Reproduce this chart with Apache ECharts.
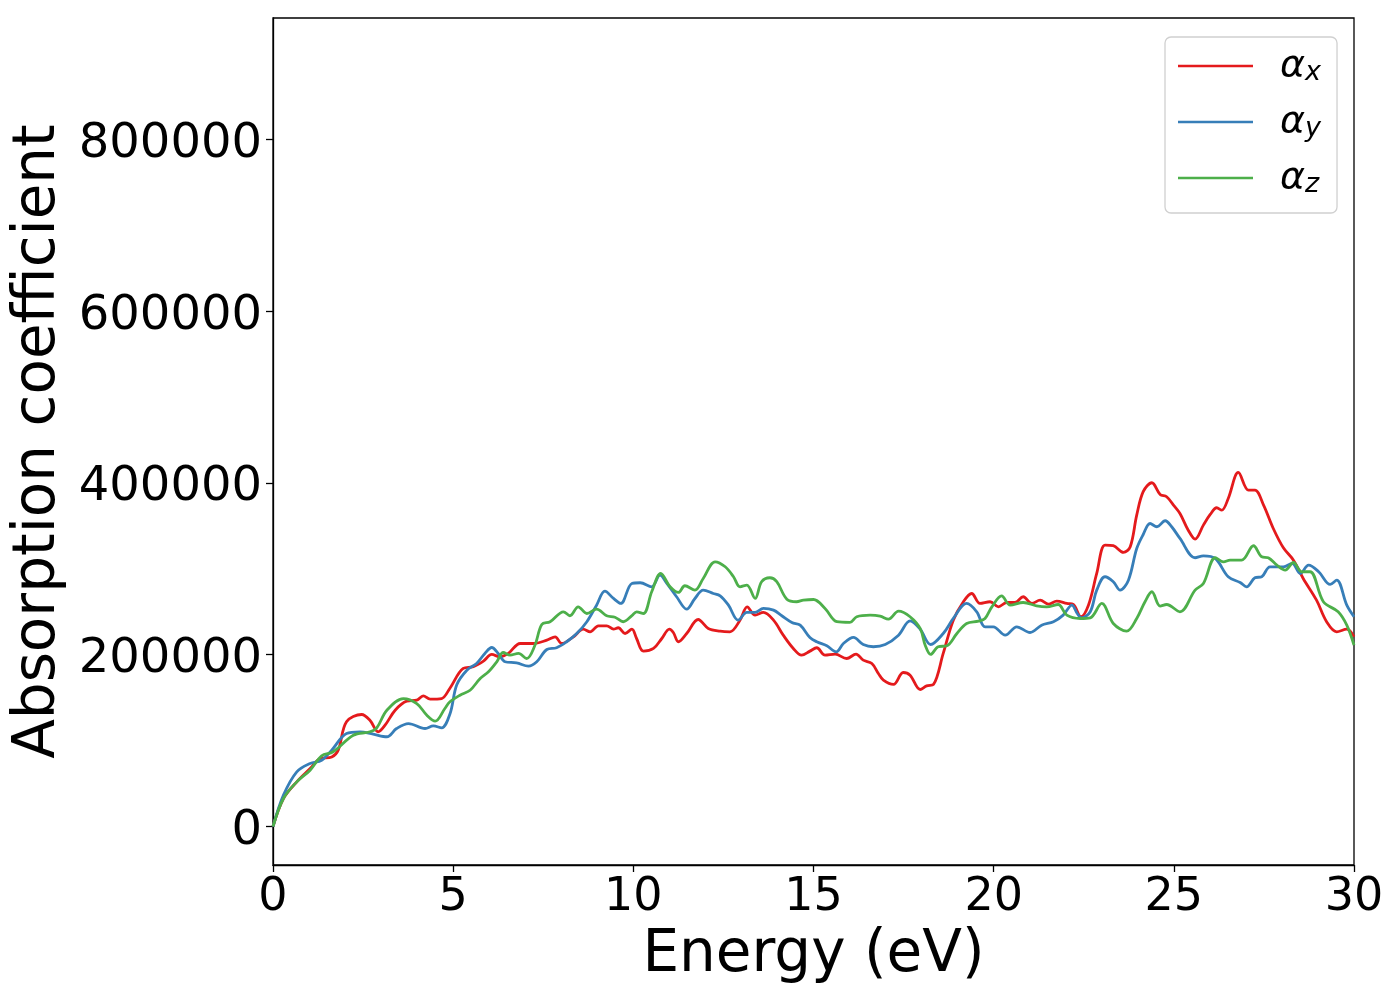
<!DOCTYPE html>
<html>
<head>
<meta charset="utf-8">
<script src="https://cdn.jsdelivr.net/npm/echarts@6/dist/echarts.min.js"></script>
<style>
html,body{margin:0;padding:0;background:#fff;}
#chart{width:1400px;height:1000px;}
</style>
</head>
<body>
<div id="chart"></div>
<script>
// ---- data ----
const seriesNames = ['α_x', 'α_y', 'α_z'];
const xTicks = [0, 5, 10, 15, 20, 25, 30];
const yTicks = [0, 200000, 400000, 600000, 800000];

const redX = [0,0.29,0.66,1.03,1.30,1.63,1.81,2.04,2.46,2.69,2.92,3.11,3.39,3.71,3.99,4.17,4.36,4.68,4.91,5.28,5.56,5.84,6.07,6.30,6.53,6.86,7.22,7.60,7.83,8.01,8.34,8.61,8.80,9.03,9.26,9.45,9.58,9.77,9.96,10.09,10.28,10.56,10.79,11.00,11.11,11.25,11.48,11.80,12.08,12.41,12.68,12.96,13.16,13.38,13.61,13.89,14.16,14.44,14.67,14.90,15.09,15.32,15.60,15.92,16.18,16.38,16.62,16.80,16.94,17.22,17.49,17.68,17.96,18.14,18.33,18.60,18.88,19.16,19.39,19.62,19.90,20.13,20.36,20.59,20.82,21.06,21.29,21.52,21.75,22.03,22.21,22.42,22.63,22.86,23.09,23.32,23.60,23.79,23.97,24.15,24.39,24.62,24.80,24.99,25.17,25.40,25.59,25.82,26.01,26.19,26.33,26.51,26.79,27.07,27.25,27.49,27.76,28.04,28.32,28.59,28.96,29.24,29.52,29.80,30.00];
const redY = [0,32600,52000,67500,79000,81000,88900,122000,130400,123800,110300,118000,135400,145900,147100,152200,148200,149000,161000,184000,186000,192500,200300,197600,201500,213100,213100,217000,220900,213100,220900,229800,226700,233700,233700,229800,231400,224700,229800,218900,204200,207300,218900,229800,225900,215100,224700,241000,230600,227400,226700,240200,255800,246100,249200,240200,222800,207300,199500,204200,208100,199500,200700,195600,200700,193700,189800,178200,170400,165400,179300,176200,159500,163800,165400,201500,240200,261700,271300,259700,261700,255800,260800,260800,267500,259700,263500,258900,262400,259700,258500,244200,257700,294600,327600,326900,319100,325700,362500,389800,400200,386600,383900,374200,364500,345000,334600,350900,363300,371100,368300,381900,412200,391600,391600,374200,347000,324500,310100,288800,263500,238400,226700,229800,220900];

const blueX = [0,0.29,0.66,1.03,1.35,1.63,2.04,2.41,2.78,3.16,3.43,3.76,4.22,4.45,4.68,4.91,5.10,5.38,5.65,5.88,6.07,6.25,6.44,6.76,7.09,7.32,7.60,7.87,8.15,8.43,8.71,8.98,9.21,9.45,9.65,9.96,10.19,10.51,10.74,10.93,11.20,11.48,11.71,11.94,12.22,12.41,12.64,12.91,13.15,13.38,13.61,13.89,14.12,14.40,14.63,14.90,15.09,15.37,15.63,15.83,16.11,16.38,16.66,16.99,17.36,17.68,17.96,18.25,18.60,18.88,19.25,19.53,19.76,19.99,20.32,20.64,21.01,21.33,21.66,21.93,22.17,22.32,22.44,22.68,22.86,23.09,23.32,23.51,23.74,23.97,24.15,24.34,24.53,24.76,24.94,25.17,25.59,25.82,26.15,26.51,26.84,27.02,27.25,27.44,27.67,28.04,28.28,28.51,28.74,29.02,29.34,29.52,29.80,30.00];
const blueY = [0,36500,63700,73400,77200,88900,108300,110300,107500,104500,114100,119900,114100,117200,114900,131000,165000,182000,189800,201500,208400,201500,191800,190600,186700,191800,206100,208100,215100,224700,238400,257700,274000,265500,259700,283000,283800,279100,292600,283000,267500,253100,265500,275200,271300,268600,257700,240200,249200,249200,253900,251900,245400,237600,234400,220000,215100,210400,203400,213100,220100,211900,209300,211900,222800,239500,229800,211900,224700,242200,259700,250000,232500,232500,222800,232500,225900,234400,238400,246100,257700,248000,243000,250000,275200,290800,285000,275200,286800,323700,340000,352800,349000,356000,349000,335400,312900,315200,312100,290800,284100,279100,289600,290800,302400,302400,306300,294600,304300,296600,281800,286800,257700,244200];

const greenX = [0,0.29,0.66,1.03,1.35,1.67,2.23,2.69,2.88,3.16,3.62,3.99,4.27,4.50,4.77,4.91,5.19,5.47,5.75,5.98,6.21,6.39,6.58,6.81,7.04,7.27,7.46,7.69,8.06,8.24,8.47,8.71,8.98,9.26,9.49,9.72,9.96,10.09,10.28,10.51,10.76,11.02,11.25,11.43,11.71,11.94,12.27,12.55,12.78,12.96,13.15,13.38,13.56,13.79,13.98,14.26,14.53,14.72,15.00,15.32,15.65,16.01,16.20,16.57,16.85,17.08,17.36,17.68,17.96,18.10,18.25,18.46,18.70,18.98,19.25,19.58,19.76,19.95,20.22,20.46,20.82,21.19,21.47,21.79,22.03,22.40,22.68,23.00,23.32,23.69,23.97,24.20,24.39,24.62,24.80,25.17,25.59,25.82,26.15,26.38,26.56,26.88,27.21,27.44,27.62,27.86,28.09,28.32,28.55,28.78,29.15,29.56,29.80,30.00];
const greenY = [0,32600,52000,65600,82300,87000,106300,110300,114900,135400,149000,143200,129600,122600,137400,145200,152900,158700,172300,180100,191800,202600,199500,201500,195600,211100,235200,238400,250000,245400,255800,248000,253000,245400,243700,238400,245400,250000,248000,273300,294600,279100,272500,280300,275200,288800,308200,302400,290800,279100,281000,265500,285000,289600,285000,264700,261700,263500,264300,253900,238400,237600,244200,246100,244900,241400,250700,244200,230600,211100,200300,209300,210400,224700,236400,239100,242200,255800,268600,257700,260800,257000,255800,258500,246100,242200,243000,259700,236400,227400,242200,261700,273300,256600,258500,250000,275200,283000,312900,308200,310100,310100,326900,314000,312900,304300,298500,307400,296600,296600,261700,250000,234400,211100];

const colors = ['#e41a1c', '#377eb8', '#4daf4a'];

// ---- chart ----
const pairs = (xs, ys) => xs.map((x, i) => [x, ys[i]]);
const FONT = 'DejaVu Sans';
const chart = echarts.init(document.getElementById('chart'), null, {renderer: 'canvas'});

const mkSeries = (name, xs, ys, color) => ({
  name: name,
  type: 'line',
  data: pairs(xs, ys),
  smooth: 0.35,
  showSymbol: false,
  symbol: 'none',
  lineStyle: {color: color, width: 2.8},
  itemStyle: {color: color},
  z: 3
});

chart.setOption({
  animation: false,
  backgroundColor: '#fff',
  grid: {left: 273, right: 46, top: 18, bottom: 135, show: true, borderColor: '#000', borderWidth: 1.3, backgroundColor: 'transparent'},
  xAxis: {
    type: 'value', min: 0, max: 30, interval: 5,
    name: 'Energy (eV)', nameLocation: 'middle', nameGap: 62,
    nameTextStyle: {fontFamily: FONT, fontSize: 58, color: '#000'},
    axisLine: {show: true, onZero: false, lineStyle: {color: '#000', width: 1.3}},
    axisTick: {show: true, inside: false, length: 7, lineStyle: {color: '#000', width: 1.3}},
    axisLabel: {fontFamily: FONT, fontSize: 46, color: '#000', margin: 10,
      customValues: xTicks, formatter: v => String(v)},
    splitLine: {show: false}
  },
  yAxis: {
    type: 'value', min: -44800, max: 941300,
    name: 'Absorption coefficient', nameLocation: 'middle', nameGap: 201, nameRotate: 90,
    nameTextStyle: {fontFamily: FONT, fontSize: 58, color: '#000'},
    axisLine: {show: true, onZero: false, lineStyle: {color: '#000', width: 1.3}},
    axisTick: {show: true, inside: false, length: 7, customValues: yTicks, lineStyle: {color: '#000', width: 1.3}},
    axisLabel: {fontFamily: FONT, fontSize: 48, color: '#000', margin: 11,
      customValues: yTicks,
      formatter: v => '{t|' + String(v) + '}',
      rich: {t: {fontFamily: FONT, fontSize: 48, color: '#000', padding: [10, 0, 0, 0]}}},
    splitLine: {show: false}
  },
  legend: {
    show: true,
    orient: 'vertical',
    left: 1165, top: 37,
    padding: [8, 16, 15, 13],
    itemWidth: 75, itemHeight: 2.6, itemGap: 15,
    icon: 'rect',
    backgroundColor: '#fff',
    borderColor: '#d0d0d0', borderWidth: 1.3, borderRadius: 6,
    data: seriesNames,
    formatter: function (name) {
      const sub = name.split('_')[1];
      return '{a|α}{s|' + sub + '}';
    },
    textStyle: {
      padding: [0, 0, 0, 22],
      rich: {
        a: {fontFamily: FONT, fontStyle: 'italic', fontSize: 38, color: '#000', lineHeight: 40, verticalAlign: 'middle'},
        s: {fontFamily: FONT, fontStyle: 'italic', fontSize: 27, color: '#000', lineHeight: 40, verticalAlign: 'bottom', padding: [14, 0, 0, 0]}
      }
    }
  },
  series: [
    mkSeries(seriesNames[0], redX, redY, colors[0]),
    mkSeries(seriesNames[1], blueX, blueY, colors[1]),
    mkSeries(seriesNames[2], greenX, greenY, colors[2])
  ]
});
</script>
</body>
</html>
